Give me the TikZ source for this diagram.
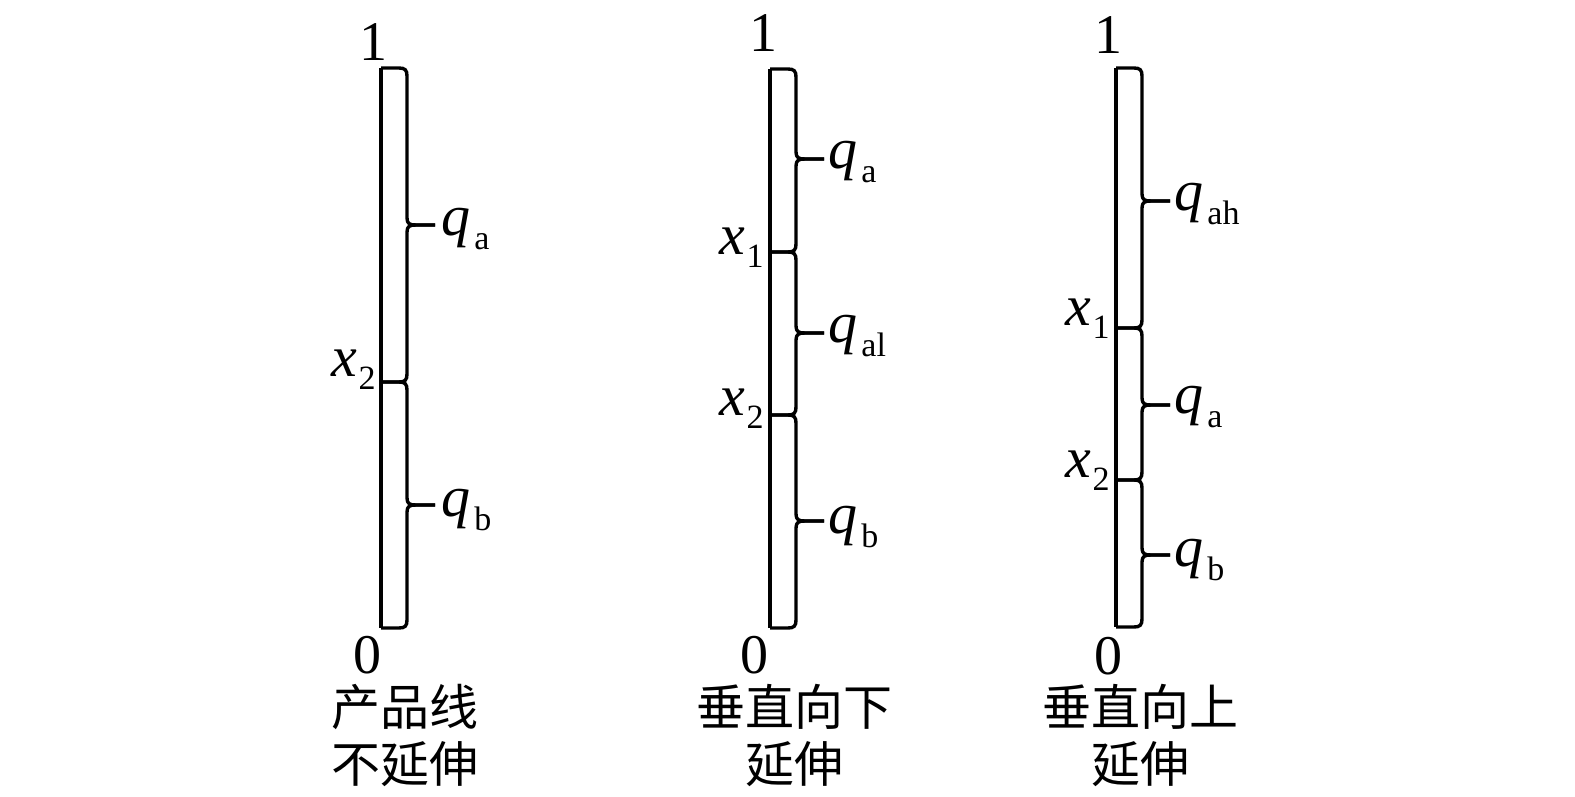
\documentclass[tikz,border=0pt]{standalone}
\usepackage{fontspec}
\setmainfont{Liberation Serif}
\newfontfamily\cjk{Noto Sans CJK SC}
\newcommand\sbs[1]{\raisebox{-0.5ex}{\fontsize{17}{17}\selectfont #1}}
\newcommand\qlab[1]{\textit{q}\kern2pt\sbs{#1}}
\newcommand\xlab[1]{\textit{x}\kern0.5pt\sbs{#1}}
% brace segment: line x, top, mid, bottom
\newcommand\brseg[4]{%
  \draw[brc] (#1,#2) -- ({#1+18},#2) .. controls ({#1+24},#2) and ({#1+26},{#2+2}) .. ({#1+26},{#2+8})
    -- ({#1+26},{#3-7}) .. controls ({#1+26},{#3-1}) and ({#1+29},#3) .. ({#1+35},#3) -- ({#1+54},#3);
  \draw[brc] ({#1+54},#3) -- ({#1+35},#3) .. controls ({#1+29},#3) and ({#1+26},{#3+1}) .. ({#1+26},{#3+7})
    -- ({#1+26},{#4-8}) .. controls ({#1+26},{#4-2}) and ({#1+24},#4) .. ({#1+18},#4) -- (#1,#4);}
\tikzset{
  brc/.style={line width=1.7pt, line join=round},
  axisline/.style={line width=1.7pt},
  num/.style={font=\fontsize{28}{30}\selectfont, inner sep=0pt},
  lab/.style={font=\fontsize{29}{30}\selectfont, inner sep=0pt, anchor=west},
  xl/.style={font=\fontsize{29}{30}\selectfont, inner sep=0pt, anchor=east},
  captxt/.style={font=\cjk\fontsize{24.5}{30}\selectfont, inner sep=0pt, text height=14pt, text depth=2pt, anchor=base},
}
\begin{document}
\begin{tikzpicture}[x=0.5pt,y=-0.5pt]
\useasboundingbox (0,0) rectangle (1575,797);
% Panel 1
\draw[axisline] (381,68) -- (381,628);
\brseg{381}{68}{225}{382}
\brseg{381}{382}{505}{628}
\node[num] (p1one) at (373,42) {1};
\node[num] (p1zero) at (367,655) {0};
\node[xl] (p1x2) at (376,370) {\xlab{2}};
\node[lab] (p1qa) at (441,229) {\qlab{a}};
\node[lab] (p1qb) at (441,510) {\qlab{b}};
\node[captxt] (p1c1) at (405,725) {产品线};
\node[captxt] (p1c2) at (405,782) {不延伸};
% Panel 2
\draw[axisline] (770,69) -- (770,628);
\brseg{770}{69}{159}{252}
\brseg{770}{252}{333}{415}
\brseg{770}{415}{521}{628}
\node[num] (p2one) at (763,33) {1};
\node[num] (p2zero) at (754,655) {0};
\node[xl] (p2x1) at (764,248) {\xlab{1}};
\node[xl] (p2x2) at (764,409) {\xlab{2}};
\node[lab] (p2qa) at (828,162) {\qlab{a}};
\node[lab] (p2qal) at (828,336) {\qlab{al}};
\node[lab] (p2qb) at (828,527) {\qlab{b}};
\node[captxt] (p2c1) at (794,725) {垂直向下};
\node[captxt] (p2c2) at (794,782) {延伸};
% Panel 3
\draw[axisline] (1116,68) -- (1116,627);
\brseg{1116}{68}{201}{328}
\brseg{1116}{328}{405}{480}
\brseg{1116}{480}{555}{627}
\node[num] (p3one) at (1108,35) {1};
\node[num] (p3zero) at (1108,656) {0};
\node[xl] (p3x1) at (1110,319) {\xlab{1}};
\node[xl] (p3x2) at (1110,471) {\xlab{2}};
\node[lab] (p3qah) at (1174,204) {\qlab{ah}};
\node[lab] (p3qa) at (1174,407) {\qlab{a}};
\node[lab] (p3qb) at (1174,560) {\qlab{b}};
\node[captxt] (p3c1) at (1140,725) {垂直向上};
\node[captxt] (p3c2) at (1140,782) {延伸};
\end{tikzpicture}
\end{document}
